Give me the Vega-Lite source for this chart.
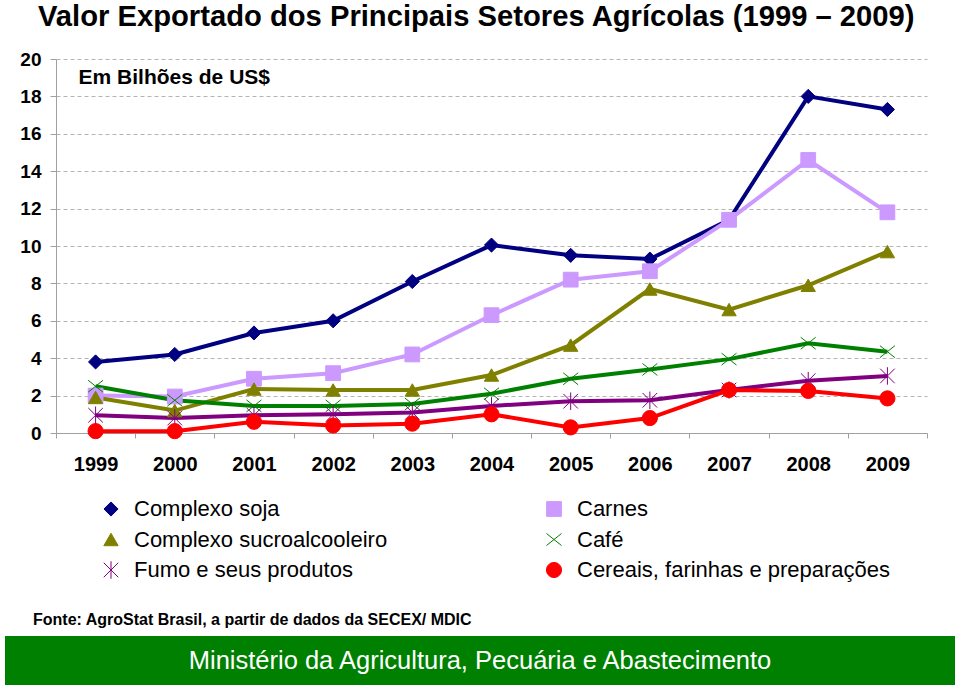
{
  "$schema": "https://vega.github.io/schema/vega-lite/v6.json",
  "background": "white",
  "padding": {"left": 2, "top": 2, "right": 5, "bottom": 2},
  "spacing": 138,
  "config": {
    "font": "Liberation Sans",
    "view": {"stroke": null},
    "axis": {"labelFont": "Liberation Sans", "labelColor": "black", "labelFontWeight": "bold"}
  },
  "vconcat": [
    {
      "spacing": 0,
      "hconcat": [
        {
          "width": 1,
          "height": 374,
          "data": {"values": [{"vazio": 0}]},
          "mark": {"type": "point", "opacity": 0},
          "encoding": {}
        },
        {
          "width": 871,
          "height": 374,
          "title": {
            "text": "Valor Exportado dos Principais Setores Agrícolas (1999 – 2009)",
            "anchor": "start",
            "frame": "group",
            "dx": -18,
            "fontSize": 29.2,
            "fontWeight": "bold",
            "color": "black",
            "font": "Liberation Sans",
            "offset": 18
          },
          "data": {
            "values": [
              {"ano": "1999", "setor": "Complexo soja", "valor": 3.8},
              {"ano": "2000", "setor": "Complexo soja", "valor": 4.2},
              {"ano": "2001", "setor": "Complexo soja", "valor": 5.35},
              {"ano": "2002", "setor": "Complexo soja", "valor": 6.0},
              {"ano": "2003", "setor": "Complexo soja", "valor": 8.1},
              {"ano": "2004", "setor": "Complexo soja", "valor": 10.05},
              {"ano": "2005", "setor": "Complexo soja", "valor": 9.5},
              {"ano": "2006", "setor": "Complexo soja", "valor": 9.3},
              {"ano": "2007", "setor": "Complexo soja", "valor": 11.4},
              {"ano": "2008", "setor": "Complexo soja", "valor": 18.0},
              {"ano": "2009", "setor": "Complexo soja", "valor": 17.3},
              {"ano": "1999", "setor": "Carnes", "valor": 2.0},
              {"ano": "2000", "setor": "Carnes", "valor": 1.95},
              {"ano": "2001", "setor": "Carnes", "valor": 2.9},
              {"ano": "2002", "setor": "Carnes", "valor": 3.2},
              {"ano": "2003", "setor": "Carnes", "valor": 4.2},
              {"ano": "2004", "setor": "Carnes", "valor": 6.3},
              {"ano": "2005", "setor": "Carnes", "valor": 8.2},
              {"ano": "2006", "setor": "Carnes", "valor": 8.65},
              {"ano": "2007", "setor": "Carnes", "valor": 11.4},
              {"ano": "2008", "setor": "Carnes", "valor": 14.6},
              {"ano": "2009", "setor": "Carnes", "valor": 11.8},
              {"ano": "1999", "setor": "Complexo sucroalcooleiro", "valor": 1.9},
              {"ano": "2000", "setor": "Complexo sucroalcooleiro", "valor": 1.2},
              {"ano": "2001", "setor": "Complexo sucroalcooleiro", "valor": 2.35},
              {"ano": "2002", "setor": "Complexo sucroalcooleiro", "valor": 2.3},
              {"ano": "2003", "setor": "Complexo sucroalcooleiro", "valor": 2.3},
              {"ano": "2004", "setor": "Complexo sucroalcooleiro", "valor": 3.1},
              {"ano": "2005", "setor": "Complexo sucroalcooleiro", "valor": 4.7},
              {"ano": "2006", "setor": "Complexo sucroalcooleiro", "valor": 7.7},
              {"ano": "2007", "setor": "Complexo sucroalcooleiro", "valor": 6.6},
              {"ano": "2008", "setor": "Complexo sucroalcooleiro", "valor": 7.9},
              {"ano": "2009", "setor": "Complexo sucroalcooleiro", "valor": 9.7},
              {"ano": "1999", "setor": "Café", "valor": 2.5},
              {"ano": "2000", "setor": "Café", "valor": 1.75},
              {"ano": "2001", "setor": "Café", "valor": 1.45},
              {"ano": "2002", "setor": "Café", "valor": 1.45},
              {"ano": "2003", "setor": "Café", "valor": 1.55},
              {"ano": "2004", "setor": "Café", "valor": 2.1},
              {"ano": "2005", "setor": "Café", "valor": 2.9},
              {"ano": "2006", "setor": "Café", "valor": 3.4},
              {"ano": "2007", "setor": "Café", "valor": 3.95},
              {"ano": "2008", "setor": "Café", "valor": 4.8},
              {"ano": "2009", "setor": "Café", "valor": 4.35},
              {"ano": "1999", "setor": "Fumo e seus produtos", "valor": 0.95},
              {"ano": "2000", "setor": "Fumo e seus produtos", "valor": 0.8},
              {"ano": "2001", "setor": "Fumo e seus produtos", "valor": 0.95},
              {"ano": "2002", "setor": "Fumo e seus produtos", "valor": 1.0},
              {"ano": "2003", "setor": "Fumo e seus produtos", "valor": 1.1},
              {"ano": "2004", "setor": "Fumo e seus produtos", "valor": 1.45},
              {"ano": "2005", "setor": "Fumo e seus produtos", "valor": 1.7},
              {"ano": "2006", "setor": "Fumo e seus produtos", "valor": 1.75},
              {"ano": "2007", "setor": "Fumo e seus produtos", "valor": 2.3},
              {"ano": "2008", "setor": "Fumo e seus produtos", "valor": 2.8},
              {"ano": "2009", "setor": "Fumo e seus produtos", "valor": 3.05},
              {"ano": "1999", "setor": "Cereais, farinhas e preparações", "valor": 0.1},
              {"ano": "2000", "setor": "Cereais, farinhas e preparações", "valor": 0.1},
              {"ano": "2001", "setor": "Cereais, farinhas e preparações", "valor": 0.6},
              {"ano": "2002", "setor": "Cereais, farinhas e preparações", "valor": 0.4},
              {"ano": "2003", "setor": "Cereais, farinhas e preparações", "valor": 0.5},
              {"ano": "2004", "setor": "Cereais, farinhas e preparações", "valor": 1.0},
              {"ano": "2005", "setor": "Cereais, farinhas e preparações", "valor": 0.3},
              {"ano": "2006", "setor": "Cereais, farinhas e preparações", "valor": 0.8},
              {"ano": "2007", "setor": "Cereais, farinhas e preparações", "valor": 2.3},
              {"ano": "2008", "setor": "Cereais, farinhas e preparações", "valor": 2.25},
              {"ano": "2009", "setor": "Cereais, farinhas e preparações", "valor": 1.85}
            ]
          },
          "encoding": {
            "x": {
              "field": "ano",
              "type": "nominal",
              "scale": {"type": "band", "paddingInner": 0, "paddingOuter": 0},
              "axis": {
                "title": null,
                "labelAngle": 0,
                "labelFontSize": 20,
                "labelPadding": 16,
                "tickBand": "extent",
                "tickSize": 5,
                "tickColor": "#a0a0a0",
                "domainColor": "#a0a0a0",
                "grid": false
              }
            },
            "y": {
              "field": "valor",
              "type": "quantitative",
              "scale": {"domain": [0, 20], "nice": false},
              "axis": {
                "title": null,
                "values": [0, 2, 4, 6, 8, 10, 12, 14, 16, 18, 20],
                "labelFontSize": 19,
                "labelPadding": 9,
                "tickSize": 6,
                "tickColor": "#a0a0a0",
                "domainColor": "#a0a0a0",
                "grid": true,
                "gridColor": "#b4b4b4",
                "gridDash": [4, 3],
                "minExtent": 47,
                "maxExtent": 47
              }
            }
          },
          "layer": [
            {
              "mark": {"type": "line", "strokeWidth": 4},
              "encoding": {
                "color": {
                  "field": "setor",
                  "type": "nominal",
                  "scale": {
                    "domain": ["Complexo soja", "Complexo sucroalcooleiro", "Fumo e seus produtos", "Carnes", "Café", "Cereais, farinhas e preparações"],
                    "range": ["#000080", "#808000", "#800080", "#CC99FF", "#008000", "#FF0000"]
                  },
                  "legend": {
                    "title": null,
                    "orient": "none",
                    "legendX": 95,
                    "legendY": 439,
                    "columns": 2,
                    "columnPadding": 155,
                    "rowPadding": 8.5,
                    "labelFontSize": 22,
                    "labelFont": "Liberation Sans",
                    "labelColor": "black",
                    "labelOffset": 12,
                    "labelLimit": 400,
                    "symbolSize": 100,
                    "padding": 0
                  }
                }
              }
            },
            {
              "mark": {"type": "point", "filled": true, "opacity": 1},
              "encoding": {
                "fill": {
                  "field": "setor",
                  "type": "nominal",
                  "scale": {
                    "domain": ["Complexo soja", "Complexo sucroalcooleiro", "Fumo e seus produtos", "Carnes", "Café", "Cereais, farinhas e preparações"],
                    "range": ["#000080", "#808000", "#800080", "#CC99FF", "#008000", "#FF0000"]
                  },
                  "legend": null
                },
                "stroke": {
                  "field": "setor",
                  "type": "nominal",
                  "scale": {
                    "domain": ["Complexo soja", "Complexo sucroalcooleiro", "Fumo e seus produtos", "Carnes", "Café", "Cereais, farinhas e preparações"],
                    "range": ["#000080", "#808000", "#800080", "#CC99FF", "#008000", "#FF0000"]
                  },
                  "legend": null
                },
                "shape": {
                  "field": "setor",
                  "type": "nominal",
                  "scale": {
                    "domain": ["Complexo soja", "Complexo sucroalcooleiro", "Fumo e seus produtos", "Carnes", "Café", "Cereais, farinhas e preparações"],
                    "range": ["diamond", "triangle-up", "M-1,-1L1,1M-1,1L1,-1M0,-1.2L0,1.2", "square", "M-1,-0.8L1,0.8M-1,0.8L1,-0.8", "circle"]
                  },
                  "legend": null
                },
                "size": {
                  "field": "setor",
                  "type": "nominal",
                  "scale": {
                    "domain": ["Complexo soja", "Complexo sucroalcooleiro", "Fumo e seus produtos", "Carnes", "Café", "Cereais, farinhas e preparações"],
                    "range": [200, 230, 210, 110, 300, 140]
                  },
                  "legend": null
                },
                "strokeWidth": {
                  "field": "setor",
                  "type": "nominal",
                  "scale": {
                    "domain": ["Complexo soja", "Complexo sucroalcooleiro", "Fumo e seus produtos", "Carnes", "Café", "Cereais, farinhas e preparações"],
                    "range": [1, 1, 2, 1, 2, 1]
                  },
                  "legend": null
                }
              }
            },
            {
              "data": {"values": [{"ano": "1999", "valor": 19, "rotulo": "Em Bilhões de US$"}]},
              "mark": {"type": "text", "align": "left", "baseline": "middle", "fontSize": 21, "fontWeight": "bold", "font": "Liberation Sans", "color": "black", "dx": -17},
              "encoding": {
                "text": {"field": "rotulo", "type": "nominal"}
              }
            }
          ]
        }
      ]
    },
    {
      "width": 950,
      "height": 49,
      "view": {"fill": "#008000", "stroke": null},
      "title": {
        "text": "Fonte: AgroStat Brasil, a partir de dados da SECEX/ MDIC",
        "anchor": "start",
        "frame": "group",
        "dx": 28,
        "offset": 8,
        "fontSize": 16,
        "fontWeight": "bold",
        "color": "black",
        "font": "Liberation Sans Narrow, Arial Narrow, Liberation Sans"
      },
      "data": {"values": [{"nome": "Ministério da Agricultura, Pecuária e Abastecimento"}]},
      "mark": {"type": "text", "color": "white", "fontSize": 25.5, "font": "Liberation Sans Narrow, Arial Narrow, Liberation Sans", "align": "center", "baseline": "middle"},
      "encoding": {"text": {"field": "nome"}}
    }
  ]
}
